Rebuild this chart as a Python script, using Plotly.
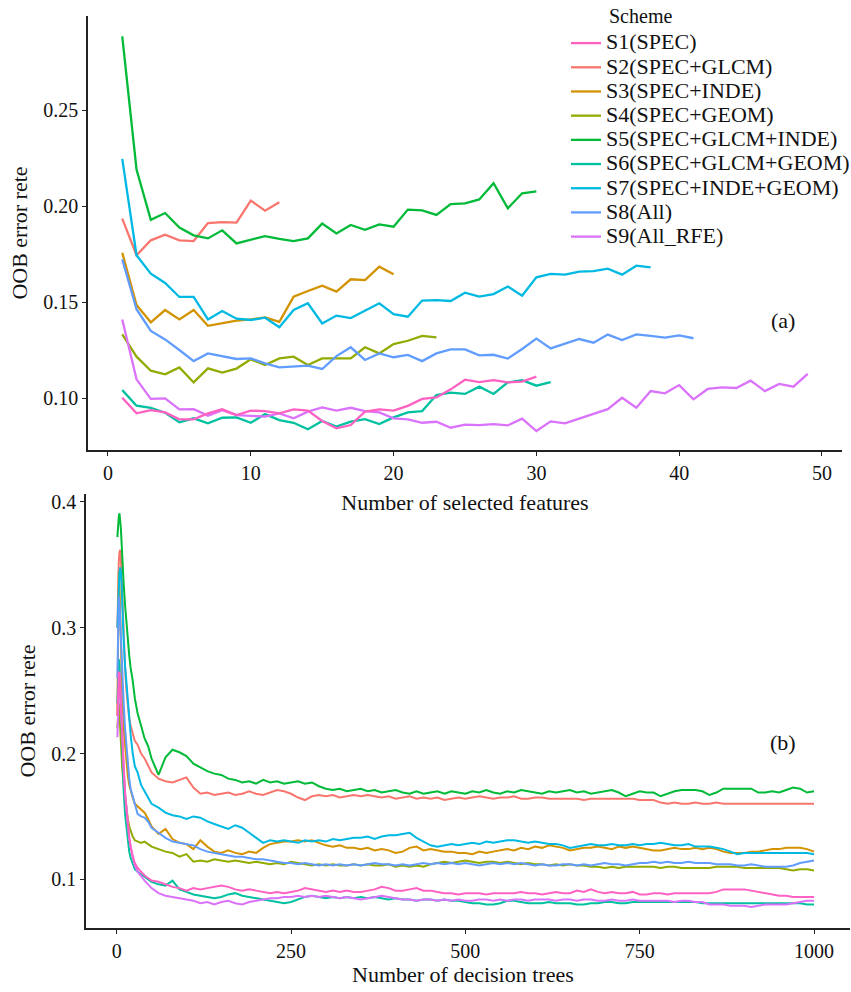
import plotly.graph_objects as go

# ---------------- Panel (a): OOB error vs number of selected features ----------------
names = ["S1(SPEC)", "S2(SPEC+GLCM)", "S3(SPEC+INDE)", "S4(SPEC+GEOM)",
         "S5(SPEC+GLCM+INDE)", "S6(SPEC+GLCM+GEOM)", "S7(SPEC+INDE+GEOM)",
         "S8(All)", "S9(All_RFE)"]
colors = ["#FF61C3", "#F8766D", "#D39200", "#93AA00", "#00BA38",
          "#00C19F", "#00B9E3", "#619CFF", "#DB72FB"]

feat_S1 = [0.1003, 0.0922, 0.0939, 0.0927, 0.0891, 0.0891, 0.0922, 0.0943, 0.0913, 0.0936,
           0.0934, 0.0922, 0.0943, 0.0936, 0.0882, 0.0844, 0.0861, 0.0931, 0.0943, 0.0936,
           0.0961, 0.0997, 0.1005, 0.1047, 0.1097, 0.1085, 0.1095, 0.1083, 0.1087, 0.1113]
feat_S2 = [0.1936, 0.1745, 0.1823, 0.1852, 0.1823, 0.1819, 0.1913, 0.1918, 0.1915, 0.2030,
           0.1977, 0.2021]
feat_S3 = [0.1758, 0.1486, 0.1396, 0.1460, 0.1411, 0.1460, 0.1378, 0.1390, 0.1405, 0.1411,
           0.1422, 0.1398, 0.1530, 0.1559, 0.1587, 0.1556, 0.1620, 0.1616, 0.1686, 0.1646]
feat_S4 = [0.1333, 0.1217, 0.1144, 0.1125, 0.1161, 0.1083, 0.1156, 0.1134, 0.1155, 0.1203,
           0.1174, 0.1208, 0.1217, 0.1174, 0.1208, 0.1208, 0.1208, 0.1266, 0.1234, 0.1283,
           0.1300, 0.1325, 0.1318]
feat_S5 = [0.2885, 0.2191, 0.1930, 0.1965, 0.1889, 0.1849, 0.1833, 0.1875, 0.1807, 0.1828,
           0.1845, 0.1830, 0.1819, 0.1833, 0.1910, 0.1859, 0.1903, 0.1878, 0.1906, 0.1894,
           0.1983, 0.1979, 0.1955, 0.2012, 0.2015, 0.2036, 0.2120, 0.1990, 0.2068, 0.2078]
feat_S6 = [0.1043, 0.0962, 0.0951, 0.0925, 0.0875, 0.0896, 0.0870, 0.0899, 0.0901, 0.0873,
           0.0918, 0.0887, 0.0873, 0.0839, 0.0882, 0.0853, 0.0879, 0.0892, 0.0866, 0.0901,
           0.0927, 0.0934, 0.1017, 0.1030, 0.1023, 0.1061, 0.1023, 0.1083, 0.1095, 0.1066,
           0.1085]
feat_S7 = [0.2247, 0.1745, 0.1649, 0.1601, 0.1528, 0.1528, 0.1411, 0.1455, 0.1415, 0.1408,
           0.1420, 0.1370, 0.1460, 0.1495, 0.1390, 0.1431, 0.1418, 0.1457, 0.1495, 0.1438,
           0.1425, 0.1509, 0.1512, 0.1507, 0.1550, 0.1530, 0.1543, 0.1582, 0.1535, 0.1630,
           0.1648, 0.1644, 0.1660, 0.1663, 0.1675, 0.1644, 0.1691, 0.1682]
feat_S8 = [0.1724, 0.1464, 0.1351, 0.1307, 0.1252, 0.1194, 0.1234, 0.1220, 0.1205, 0.1208,
           0.1182, 0.1161, 0.1167, 0.1170, 0.1153, 0.1220, 0.1266, 0.1200, 0.1234, 0.1214,
           0.1226, 0.1194, 0.1234, 0.1255, 0.1255, 0.1224, 0.1227, 0.1207, 0.1257, 0.1311,
           0.1260, 0.1286, 0.1309, 0.1290, 0.1332, 0.1304, 0.1333, 0.1325, 0.1316, 0.1328,
           0.1313]
feat_S9 = [0.1411, 0.1099, 0.0997, 0.1000, 0.0943, 0.0944, 0.0910, 0.0939, 0.0913, 0.0910,
           0.0905, 0.0922, 0.0896, 0.0931, 0.0953, 0.0936, 0.0951, 0.0934, 0.0927, 0.0896,
           0.0891, 0.0873, 0.0878, 0.0847, 0.0863, 0.0861, 0.0866, 0.0859, 0.0894, 0.0830,
           0.0880, 0.0870, 0.0896, 0.0918, 0.0944, 0.1003, 0.0951, 0.1038, 0.1026, 0.1069,
           0.0995, 0.1049, 0.1057, 0.1054, 0.1092, 0.1038, 0.1075, 0.1061, 0.1127]

# ---------------- Panel (b): OOB error vs number of decision trees ----------------
trees = [1, 2, 3, 4, 5, 6, 7, 8, 10, 12, 14, 16, 18, 20, 23, 26, 30, 35, 40, 45] + list(range(50, 1001, 10))

tree_S1 = [0.230, 0.255, 0.265, 0.262, 0.250, 0.235, 0.220, 0.205, 0.185, 0.168, 0.155, 0.142, 0.133, 0.126, 0.118, 0.113, 0.109, 0.106, 0.103, 0.101,
           0.099, 0.098, 0.096, 0.094, 0.093, 0.091, 0.093, 0.092, 0.093, 0.094,
           0.095, 0.094, 0.092, 0.091, 0.092, 0.091, 0.090, 0.089, 0.090, 0.089,
           0.090, 0.091, 0.093, 0.092, 0.091, 0.090, 0.091, 0.090, 0.091, 0.090,
           0.090, 0.091, 0.092, 0.094, 0.093, 0.091, 0.091, 0.092, 0.093, 0.091,
           0.091, 0.090, 0.089, 0.089, 0.088, 0.089, 0.089, 0.089, 0.088, 0.089,
           0.089, 0.089, 0.089, 0.090, 0.089, 0.089, 0.088, 0.089, 0.090, 0.089,
           0.089, 0.091, 0.090, 0.092, 0.090, 0.089, 0.090, 0.089, 0.089, 0.090,
           0.088, 0.088, 0.089, 0.089, 0.088, 0.089, 0.089, 0.089, 0.089, 0.089,
           0.089, 0.090, 0.092, 0.092, 0.092, 0.092, 0.091, 0.090, 0.089, 0.088,
           0.087, 0.087, 0.086, 0.086, 0.086, 0.086]
tree_S2 = [0.300, 0.335, 0.352, 0.360, 0.362, 0.355, 0.340, 0.318, 0.290, 0.268, 0.250, 0.238, 0.228, 0.222, 0.215, 0.210, 0.207, 0.200, 0.196, 0.190,
           0.185, 0.180, 0.178, 0.177, 0.179, 0.181, 0.173, 0.168, 0.169, 0.167,
           0.168, 0.169, 0.167, 0.168, 0.170, 0.168, 0.167, 0.169, 0.171, 0.170,
           0.168, 0.165, 0.163, 0.166, 0.167, 0.166, 0.167, 0.165, 0.166, 0.167,
           0.166, 0.167, 0.166, 0.165, 0.166, 0.164, 0.165, 0.166, 0.164, 0.165,
           0.164, 0.165, 0.163, 0.164, 0.165, 0.164, 0.165, 0.166, 0.165, 0.164,
           0.165, 0.165, 0.166, 0.164, 0.164, 0.165, 0.165, 0.164, 0.164, 0.164,
           0.164, 0.164, 0.163, 0.164, 0.164, 0.164, 0.164, 0.164, 0.164, 0.164,
           0.163, 0.163, 0.163, 0.161, 0.160, 0.161, 0.160, 0.160, 0.161, 0.160,
           0.160, 0.161, 0.160, 0.160, 0.160, 0.160, 0.160, 0.160, 0.160, 0.160,
           0.160, 0.160, 0.160, 0.160, 0.160, 0.160]
tree_S3 = [0.230, 0.300, 0.345, 0.335, 0.310, 0.290, 0.265, 0.245, 0.220, 0.205, 0.190, 0.182, 0.175, 0.170, 0.165, 0.160, 0.158, 0.155, 0.153, 0.148,
           0.142, 0.136, 0.140, 0.132, 0.129, 0.128, 0.124, 0.131, 0.126, 0.122,
           0.121, 0.123, 0.121, 0.120, 0.122, 0.121, 0.125, 0.128, 0.129, 0.130,
           0.130, 0.131, 0.130, 0.131, 0.129, 0.127, 0.126, 0.127, 0.125, 0.125,
           0.124, 0.125, 0.123, 0.124, 0.123, 0.121, 0.122, 0.125, 0.126, 0.123,
           0.124, 0.123, 0.122, 0.122, 0.121, 0.121, 0.120, 0.122, 0.121, 0.122,
           0.123, 0.124, 0.123, 0.125, 0.124, 0.126, 0.125, 0.127, 0.126, 0.125,
           0.123, 0.124, 0.125, 0.125, 0.126, 0.125, 0.124, 0.126, 0.125, 0.126,
           0.125, 0.124, 0.123, 0.123, 0.124, 0.125, 0.124, 0.124, 0.125, 0.124,
           0.125, 0.124, 0.122, 0.121, 0.121, 0.121, 0.122, 0.122, 0.123, 0.124,
           0.124, 0.125, 0.125, 0.125, 0.124, 0.122]
tree_S4 = [0.220, 0.235, 0.240, 0.232, 0.220, 0.210, 0.198, 0.188, 0.175, 0.165, 0.155, 0.148, 0.142, 0.138, 0.134, 0.131, 0.130, 0.129, 0.130, 0.128,
           0.126, 0.124, 0.122, 0.121, 0.118, 0.120, 0.114, 0.115, 0.114, 0.116,
           0.115, 0.114, 0.115, 0.114, 0.113, 0.114, 0.113, 0.112, 0.113, 0.112,
           0.114, 0.113, 0.112, 0.111, 0.112, 0.111, 0.112, 0.111, 0.111, 0.112,
           0.111, 0.112, 0.111, 0.111, 0.112, 0.110, 0.111, 0.110, 0.111, 0.110,
           0.112, 0.113, 0.114, 0.113, 0.114, 0.115, 0.114, 0.113, 0.114, 0.114,
           0.113, 0.114, 0.113, 0.112, 0.113, 0.112, 0.112, 0.111, 0.112, 0.111,
           0.112, 0.111, 0.111, 0.110, 0.110, 0.109, 0.110, 0.109, 0.110, 0.110,
           0.110, 0.110, 0.110, 0.109, 0.110, 0.110, 0.109, 0.109, 0.109, 0.109,
           0.109, 0.110, 0.110, 0.110, 0.110, 0.109, 0.109, 0.109, 0.109, 0.109,
           0.109, 0.108, 0.107, 0.108, 0.108, 0.107]
tree_S5 = [0.372, 0.382, 0.388, 0.391, 0.386, 0.379, 0.368, 0.352, 0.335, 0.318, 0.302, 0.290, 0.278, 0.268, 0.258, 0.244, 0.232, 0.222, 0.212, 0.206,
           0.196, 0.183, 0.197, 0.203, 0.201, 0.198, 0.192, 0.189, 0.186, 0.184,
           0.183, 0.180, 0.179, 0.177, 0.178, 0.176, 0.179, 0.177, 0.178, 0.176,
           0.177, 0.178, 0.176, 0.177, 0.174, 0.172, 0.171, 0.172, 0.170, 0.171,
           0.172, 0.170, 0.171, 0.169, 0.170, 0.171, 0.169, 0.168, 0.170, 0.168,
           0.169, 0.170, 0.168, 0.170, 0.169, 0.168, 0.170, 0.169, 0.171, 0.169,
           0.168, 0.170, 0.169, 0.171, 0.170, 0.169, 0.168, 0.170, 0.169, 0.170,
           0.171, 0.169, 0.170, 0.168, 0.169, 0.170, 0.171, 0.169, 0.166, 0.168,
           0.170, 0.169, 0.169, 0.166, 0.168, 0.170, 0.171, 0.171, 0.171, 0.170,
           0.167, 0.169, 0.172, 0.172, 0.172, 0.172, 0.172, 0.169, 0.169, 0.170,
           0.169, 0.171, 0.173, 0.172, 0.169, 0.170]
tree_S6 = [0.240, 0.265, 0.275, 0.270, 0.255, 0.235, 0.215, 0.195, 0.170, 0.152, 0.140, 0.130, 0.122, 0.117, 0.112, 0.108, 0.106, 0.104, 0.102, 0.100,
           0.098, 0.096, 0.095, 0.099, 0.092, 0.090, 0.088, 0.087, 0.086, 0.085,
           0.086, 0.088, 0.089, 0.087, 0.086, 0.085, 0.084, 0.083, 0.082, 0.081,
           0.082, 0.084, 0.086, 0.087, 0.086, 0.085, 0.086, 0.085, 0.086, 0.085,
           0.086, 0.085, 0.086, 0.085, 0.084, 0.085, 0.084, 0.084, 0.083, 0.084,
           0.084, 0.083, 0.084, 0.083, 0.083, 0.082, 0.081, 0.081, 0.080, 0.080,
           0.081, 0.083, 0.083, 0.082, 0.081, 0.081, 0.081, 0.082, 0.081, 0.081,
           0.081, 0.080, 0.080, 0.081, 0.081, 0.082, 0.082, 0.081, 0.081, 0.082,
           0.082, 0.082, 0.082, 0.082, 0.082, 0.082, 0.082, 0.082, 0.082, 0.081,
           0.081, 0.081, 0.081, 0.081, 0.081, 0.081, 0.081, 0.081, 0.081, 0.081,
           0.081, 0.081, 0.081, 0.081, 0.080, 0.080]
tree_S7 = [0.300, 0.320, 0.335, 0.345, 0.348, 0.345, 0.335, 0.315, 0.290, 0.270, 0.255, 0.240, 0.225, 0.215, 0.200, 0.190, 0.185, 0.175, 0.170, 0.165,
           0.160, 0.157, 0.153, 0.151, 0.150, 0.148, 0.150, 0.149, 0.146, 0.144,
           0.142, 0.140, 0.143, 0.141, 0.137, 0.133, 0.129, 0.131, 0.130, 0.131,
           0.130, 0.129, 0.131, 0.130, 0.131, 0.130, 0.132, 0.131, 0.132, 0.133,
           0.133, 0.134, 0.132, 0.134, 0.135, 0.135, 0.136, 0.137, 0.133, 0.130,
           0.127, 0.126, 0.127, 0.128, 0.127, 0.128, 0.129, 0.128, 0.130, 0.129,
           0.130, 0.131, 0.131, 0.130, 0.129, 0.130, 0.129, 0.128, 0.128, 0.127,
           0.125, 0.126, 0.127, 0.128, 0.127, 0.127, 0.128, 0.127, 0.127, 0.128,
           0.127, 0.128, 0.128, 0.129, 0.128, 0.127, 0.127, 0.128, 0.126, 0.126,
           0.126, 0.125, 0.124, 0.122, 0.120, 0.121, 0.121, 0.121, 0.121, 0.121,
           0.121, 0.121, 0.121, 0.121, 0.121, 0.120]
tree_S8 = [0.260, 0.300, 0.325, 0.320, 0.305, 0.290, 0.275, 0.262, 0.240, 0.220, 0.205, 0.190, 0.180, 0.172, 0.166, 0.158, 0.152, 0.150, 0.149, 0.146,
           0.141, 0.137, 0.133, 0.130, 0.129, 0.128, 0.127, 0.124, 0.122, 0.121,
           0.120, 0.119, 0.118, 0.118, 0.117, 0.116, 0.116, 0.115, 0.114, 0.113,
           0.113, 0.112, 0.113, 0.112, 0.111, 0.112, 0.111, 0.112, 0.111, 0.112,
           0.111, 0.112, 0.113, 0.112, 0.112, 0.111, 0.112, 0.111, 0.112, 0.113,
           0.112, 0.113, 0.112, 0.113, 0.112, 0.113, 0.112, 0.111, 0.112, 0.113,
           0.112, 0.113, 0.112, 0.113, 0.112, 0.111, 0.112, 0.111, 0.111, 0.112,
           0.112, 0.111, 0.112, 0.111, 0.112, 0.113, 0.112, 0.112, 0.111, 0.112,
           0.113, 0.113, 0.114, 0.113, 0.114, 0.113, 0.113, 0.114, 0.113, 0.113,
           0.113, 0.112, 0.112, 0.112, 0.111, 0.111, 0.112, 0.111, 0.110, 0.110,
           0.110, 0.110, 0.111, 0.113, 0.114, 0.115]
tree_S9 = [0.213, 0.240, 0.262, 0.265, 0.255, 0.240, 0.225, 0.210, 0.188, 0.170, 0.155, 0.143, 0.133, 0.126, 0.118, 0.111, 0.106, 0.102, 0.099, 0.096,
           0.093, 0.089, 0.087, 0.086, 0.085, 0.084, 0.083, 0.081, 0.082, 0.080,
           0.082, 0.083, 0.081, 0.080, 0.082, 0.083, 0.084, 0.085, 0.085, 0.086,
           0.086, 0.087, 0.086, 0.087, 0.086, 0.087, 0.086, 0.085, 0.086, 0.085,
           0.084, 0.085, 0.086, 0.087, 0.086, 0.085, 0.084, 0.084, 0.083, 0.084,
           0.084, 0.083, 0.084, 0.083, 0.084, 0.083, 0.083, 0.084, 0.084, 0.083,
           0.084, 0.083, 0.084, 0.084, 0.083, 0.084, 0.084, 0.084, 0.083, 0.084,
           0.084, 0.083, 0.084, 0.084, 0.083, 0.083, 0.084, 0.083, 0.083, 0.084,
           0.083, 0.083, 0.083, 0.083, 0.083, 0.082, 0.083, 0.083, 0.082, 0.082,
           0.080, 0.080, 0.080, 0.079, 0.079, 0.079, 0.078, 0.079, 0.080, 0.080,
           0.080, 0.080, 0.081, 0.082, 0.083, 0.083]

feat_series = [feat_S1, feat_S2, feat_S3, feat_S4, feat_S5, feat_S6, feat_S7, feat_S8, feat_S9]
tree_series = [tree_S1, tree_S2, tree_S3, tree_S4, tree_S5, tree_S6, tree_S7, tree_S8, tree_S9]

FONT = "Liberation Serif, Times New Roman, serif"
fig = go.Figure()

# draw order like ggplot (S2..S9 then S1 on top), legend order S1..S9
order = [1, 2, 3, 4, 5, 6, 7, 8, 0]
for i in order:
    ys = feat_series[i]
    fig.add_trace(go.Scatter(
        x=list(range(1, len(ys) + 1)), y=ys, mode="lines",
        name='<span style="font-size:22px">' + names[i] + "</span>",
        line=dict(color=colors[i], width=2.3), legendrank=i + 1,
        xaxis="x", yaxis="y", showlegend=True))
for i in order:
    ys = tree_series[i]
    fig.add_trace(go.Scatter(
        x=trees[:len(ys)], y=ys, mode="lines", name=names[i],
        line=dict(color=colors[i], width=2), xaxis="x2", yaxis="y2", showlegend=False))

axis_common = dict(showline=True, linecolor="#222", linewidth=1.5, ticks="outside",
                   ticklen=4, tickwidth=1.2, tickcolor="#222", showgrid=False, zeroline=False,
                   tickfont=dict(family=FONT, size=20, color="#111"))
title_font = dict(family=FONT, size=22, color="#111")

L, W, B, H = 86, 764, 64, 912
fig.update_layout(
    width=851, height=992,
    margin=dict(l=L, r=1, t=16, b=B, autoexpand=False),
    paper_bgcolor="white", plot_bgcolor="white",
    xaxis=dict(domain=[0.0026, 0.9895], range=[-1.4, 51.4], anchor="y",
               tickvals=[0, 10, 20, 30, 40, 50],
               title=dict(text="Number of selected features", font=title_font, standoff=12),
               **axis_common),
    yaxis=dict(domain=[0.5241, 1.0], range=[0.0731, 0.2991], anchor="x",
               tickvals=[0.10, 0.15, 0.20, 0.25], ticktext=["0.10", "0.15", "0.20", "0.25"],
               title=dict(text="OOB error rete", font=title_font, standoff=10),
               **axis_common),
    xaxis2=dict(domain=[0.0, 1.0], range=[-44, 1051.6], anchor="y2",
                tickvals=[0, 250, 500, 750, 1000],
                **axis_common),
    yaxis2=dict(domain=[0.0, 0.4759], range=[0.0613, 0.4063], anchor="x2",
                tickvals=[0.1, 0.2, 0.3, 0.4], ticktext=["0.1", "0.2", "0.3", "0.4"],
                title=dict(text="OOB error rete", font=title_font, standoff=10),
                **axis_common),
    legend=dict(xref="paper", yref="paper", x=(566 - L) / W, y=(928 - 26) / H,
                xanchor="left", yanchor="top", bgcolor="rgba(0,0,0,0)",
                font=dict(family=FONT, size=16.3, color="#111"),
                itemwidth=30, tracegroupgap=0, traceorder="normal"),
    annotations=[
        dict(text="Scheme", xref="paper", yref="paper", x=(607 - L) / W, y=(928 - 16) / H,
             xanchor="left", yanchor="middle", showarrow=False,
             font=dict(family=FONT, size=20, color="#111")),
        dict(text="(a)", xref="paper", yref="paper", x=(783 - L) / W, y=(928 - 320) / H,
             xanchor="center", yanchor="middle", showarrow=False,
             font=dict(family=FONT, size=22, color="#111")),
        dict(text="(b)", xref="paper", yref="paper", x=(783 - L) / W, y=(928 - 742) / H,
             xanchor="center", yanchor="middle", showarrow=False,
             font=dict(family=FONT, size=22, color="#111")),
        dict(text="Number of decision trees", xref="paper", yref="paper",
             x=(463 - L) / W, y=(928 - 975) / H,
             xanchor="center", yanchor="middle", showarrow=False, font=title_font),
    ],
)

fig.write_html("out.html")
